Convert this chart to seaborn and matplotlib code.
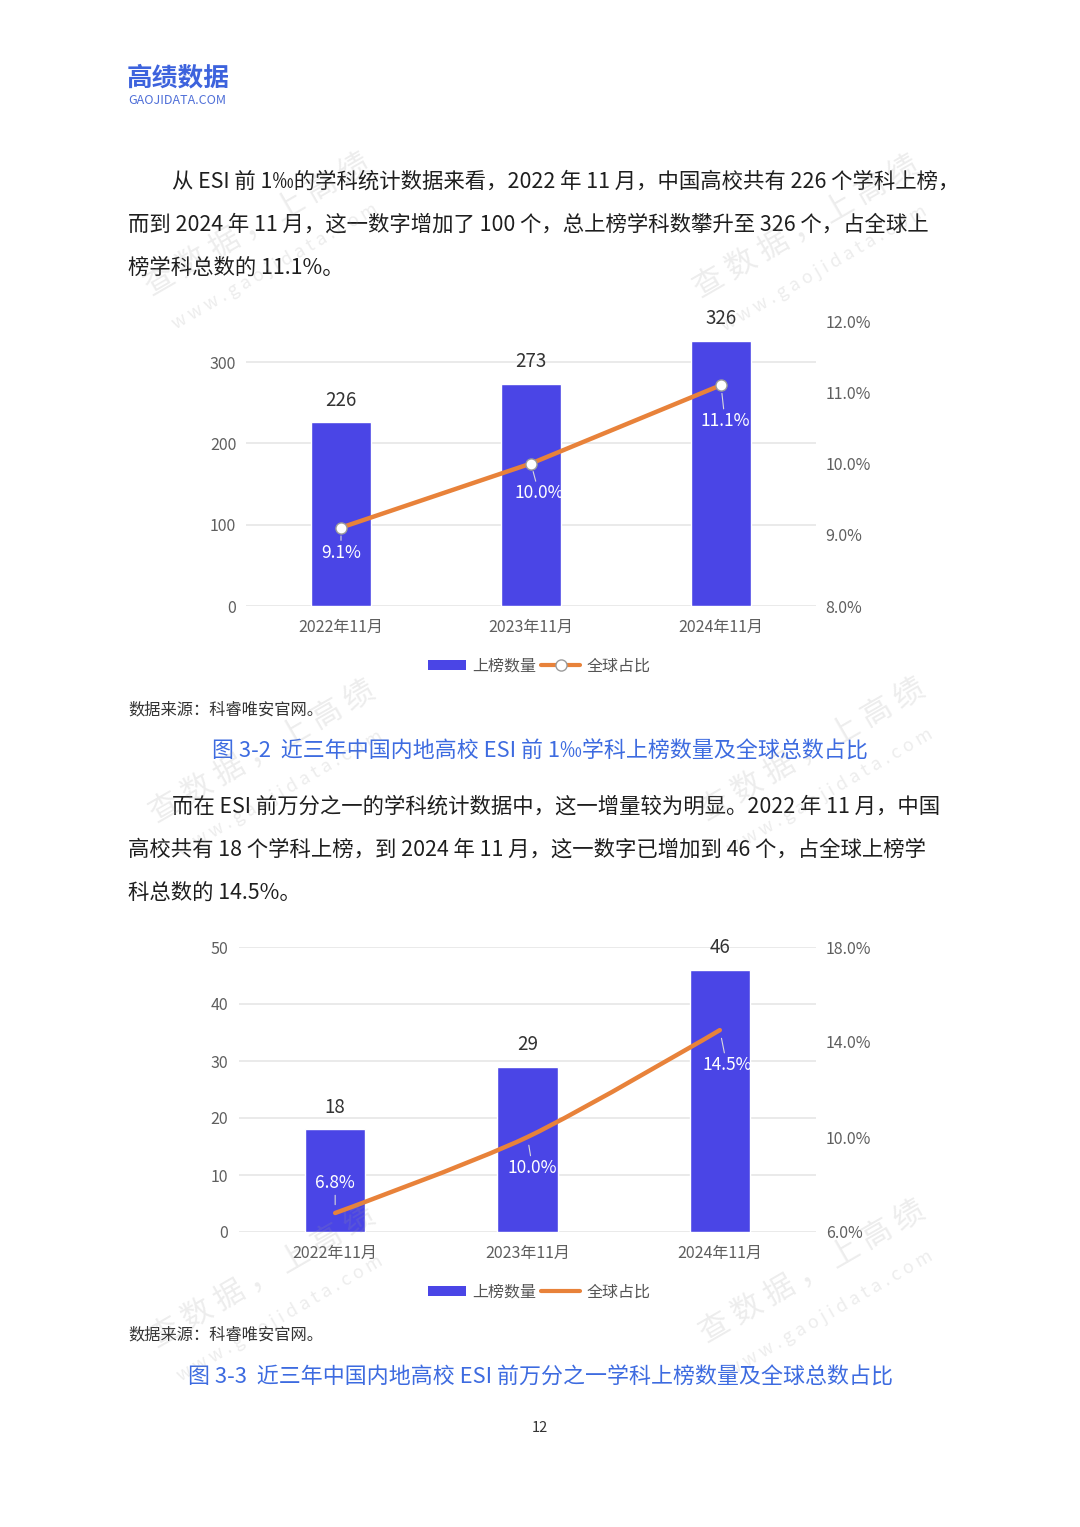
import numpy as np
import pandas as pd
import matplotlib
matplotlib.use('Agg')
import matplotlib.pyplot as plt
import seaborn as sns
from matplotlib.patches import Patch, PathPatch
from matplotlib.lines import Line2D
from matplotlib.path import Path

sns.set_theme(style='white')
plt.rcParams['font.family'] = ['Noto Sans CJK SC', 'DejaVu Sans']

# ---------------- data ----------------
categories = ['2022年11月', '2023年11月', '2024年11月']
counts_1 = [226, 273, 326]
share_1 = [9.1, 10.0, 11.1]
counts_2 = [18, 29, 46]
share_2 = [6.8, 10.0, 14.5]
left_ticks_1 = [0, 100, 200, 300]
right_ticks_1 = [8, 9, 10, 11, 12]
left_ticks_2 = [0, 10, 20, 30, 40, 50]
right_ticks_2 = [6, 10, 14, 18]
legend_labels = ['上榜数量', '全球占比']

para_1 = ['从 ESI 前 1‰的学科统计数据来看，2022 年 11 月，中国高校共有 226 个学科上榜，',
          '而到 2024 年 11 月，这一数字增加了 100 个，总上榜学科数攀升至 326 个，占全球上',
          '榜学科总数的 11.1%。']
para_2 = ['而在 ESI 前万分之一的学科统计数据中，这一增量较为明显。2022 年 11 月，中国',
          '高校共有 18 个学科上榜，到 2024 年 11 月，这一数字已增加到 46 个，占全球上榜学',
          '科总数的 14.5%。']
source_text = '数据来源：科睿唯安官网。'
caption_1 = '图 3-2  近三年中国内地高校 ESI 前 1‰学科上榜数量及全球总数占比'
caption_2 = '图 3-3  近三年中国内地高校 ESI 前万分之一学科上榜数量及全球总数占比'

BAR = '#4A45E6'
ORANGE = '#E8823A'
TICK = '#5f5f5f'
GRID = '#e6e6e6'
CAP = '#3D6BE0'

W, H = 1080, 1527
fig = plt.figure(figsize=(W / 100, H / 100), dpi=100)
fig.patch.set_facecolor('white')


def fx(x):
    return x / W


def fy(y):
    return 1 - y / H


def put(x, y, s, **kw):
    fig.text(fx(x), fy(y), s, **kw)


# ---------------- header ----------------
put(127, 78, '高绩数据', fontsize=18.5, fontweight='bold', color='#3D63DD', va='center', ha='left')
put(128, 101, 'GAOJIDATA.COM', fontsize=9, color='#4F6FD8', va='center', ha='left')

# ---------------- paragraphs ----------------
def paragraph(lines, y0):
    for i, s in enumerate(lines):
        x = 172 if i == 0 else 128
        put(x, y0 + i * 43, s, fontsize=15.4, color='#1e1e1e', va='center', ha='left')


paragraph(para_1, 182)
paragraph(para_2, 807)


# ---------------- charts ----------------
def draw_chart(rect, counts, share, lticks, lmax, rticks, rmin, rmax,
               bar_w, smooth, label_off, ypad_l):
    l, t, r, b = rect
    ax = fig.add_axes([fx(l), fy(b), (r - l) / W, (b - t) / H])
    df = pd.DataFrame({'cat': categories, 'n': counts})
    sns.barplot(data=df, x='cat', y='n', color=BAR, saturation=1, width=bar_w,
                ax=ax, zorder=3)
    ax.set_xlim(-0.5, 2.5)
    ax.set_ylim(0, lmax)
    ax.set_yticks(lticks)
    ax.set_yticklabels([str(v) for v in lticks])
    ax.set_xlabel('')
    ax.set_ylabel('')
    ax.yaxis.grid(True, color=GRID, lw=1.2, zorder=0)
    ax.set_axisbelow(True)
    for sp in ax.spines.values():
        sp.set_visible(False)
    ax.tick_params(axis='y', length=0, pad=ypad_l, labelsize=11.5, labelcolor=TICK)
    ax.tick_params(axis='x', length=0, pad=9, labelsize=11.5, labelcolor=TICK)
    for i, v in enumerate(counts):
        ax.annotate(str(v), (i, v), xytext=(0, 16), textcoords='offset points',
                    ha='center', va='center', fontsize=13.5, color='#333333')

    ax2 = ax.twinx()
    ax2.set_ylim(rmin, rmax)
    ax2.set_yticks(rticks)
    ax2.set_yticklabels([f'{v:.1f}%' for v in rticks])
    ax2.tick_params(axis='y', length=0, pad=7, labelsize=11.5, labelcolor=TICK)
    for sp in ax2.spines.values():
        sp.set_visible(False)
    ax2.grid(False)
    xs = np.arange(len(categories))
    if smooth:
        P = np.column_stack([xs, share]).astype(float)
        verts = [tuple(P[0])]
        codes = [Path.MOVETO]
        n = len(P)
        k = 0.14
        for i in range(n - 1):
            p0, p1 = P[i], P[i + 1]
            c1 = p0 if i == 0 else p0 + k * (P[i + 1] - P[i - 1])
            c2 = p1 if i + 1 == n - 1 else p1 - k * (P[i + 2] - P[i])
            verts += [tuple(c1), tuple(c2), tuple(p1)]
            codes += [Path.CURVE4, Path.CURVE4, Path.CURVE4]
        ax2.add_patch(PathPatch(Path(verts, codes), facecolor='none', edgecolor=ORANGE,
                                lw=3.2, capstyle='round', zorder=4))
    else:
        sns.lineplot(x=xs, y=share, ax=ax2, color=ORANGE, lw=3.2, marker='o',
                     markersize=8, markerfacecolor='white', markeredgecolor='#9a9a9a',
                     markeredgewidth=1.0, zorder=4)
    ax2.set_xlim(-0.5, 2.5)
    for i, v in enumerate(share):
        dx, dy = label_off[i]
        ax2.annotate(f'{v:.1f}%', (i, v), xytext=(dx * 0.72, dy * 0.72),
                     textcoords='offset points', ha='center', va='center',
                     fontsize=12.5, color='white', zorder=6,
                     arrowprops=dict(arrowstyle='-', color='#d9d9d9', lw=0.8,
                                     shrinkA=0, shrinkB=6))
    return ax, ax2


draw_chart((246, 321, 816, 606), counts_1, share_1, left_ticks_1, 350.5,
           right_ticks_1, 8, 12, 60 / 190, False,
           [(0, -25), (8, -30), (4, -36)], 7)
draw_chart((239, 947, 816, 1232), counts_2, share_2, left_ticks_2, 50,
           right_ticks_2, 6, 18, 60 / 192, True,
           [(0, 30), (5, -31), (7, -35)], 8)


# ---------------- legends ----------------
def legend(y, with_marker):
    h1 = Patch(facecolor=BAR, edgecolor='none')
    if with_marker:
        h2 = Line2D([], [], color=ORANGE, lw=3, marker='o', markersize=8,
                    markerfacecolor='white', markeredgecolor='#9a9a9a')
    else:
        h2 = Line2D([], [], color=ORANGE, lw=3)
    lg = fig.legend([h1, h2], legend_labels, loc='center',
                    bbox_to_anchor=(fx(539), fy(y)), ncol=2, frameon=False,
                    fontsize=11.5, handlelength=2.4, handleheight=0.62,
                    handletextpad=0.4, columnspacing=0.3)
    for tx in lg.get_texts():
        tx.set_color('#555555')


legend(666, True)
legend(1292, False)

# ---------------- sources / captions ----------------
put(128, 710, source_text, fontsize=11.7, color='#333333', va='center', ha='left')
put(540, 752, caption_1, fontsize=15.8, color=CAP, va='center', ha='center')
put(128, 1335, source_text, fontsize=11.7, color='#333333', va='center', ha='left')
put(540, 1378, caption_2, fontsize=15.8, color=CAP, va='center', ha='center')
put(540, 1428, '12', fontsize=10.5, color='#333333', va='center', ha='center')

# ---------------- watermarks ----------------
for (cx, cy) in [(257, 225), (806, 227), (262, 752), (812, 750), (262, 1277), (812, 1272)]:
    put(cx, cy, '查 数 据 ， 上 高 绩', fontsize=22, color='#9a9a9a', alpha=0.18,
        rotation=30, rotation_mode='anchor', ha='center', va='center', zorder=10)
    put(cx + 18, cy + 42, 'w w w . g a o j i d a t a . c o m', fontsize=13,
        color='#9a9a9a', alpha=0.18, rotation=30, rotation_mode='anchor',
        ha='center', va='center', zorder=10)

fig.savefig('out.png', dpi=100, facecolor='white')
